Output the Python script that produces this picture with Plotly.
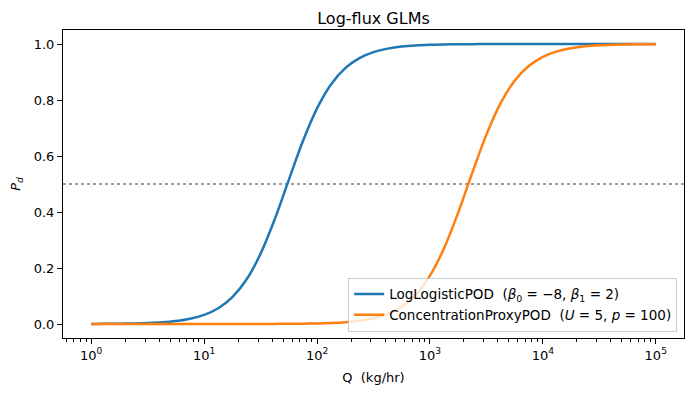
import plotly.graph_objects as go

# log10(Q) grid of the sampled points, Q in kg/hr
log10_q = [0.0, 0.125, 0.25, 0.375, 0.5, 0.625, 0.75, 0.875, 1.0, 1.125, 1.25, 1.375,
           1.5, 1.625, 1.75, 1.875, 2.0, 2.125, 2.25, 2.375, 2.5, 2.625, 2.75, 2.875,
           3.0, 3.125, 3.25, 3.375, 3.5, 3.625, 3.75, 3.875, 4.0, 4.125, 4.25, 4.375,
           4.5, 4.625, 4.75, 4.875, 5.0]

loglogistic_pd = [0.0003, 0.0006, 0.0011, 0.0019, 0.0033, 0.0059, 0.0105, 0.0185, 0.0325,
                  0.0563, 0.0960, 0.1587, 0.2512, 0.3738, 0.5148, 0.6536, 0.7703, 0.8564,
                  0.9139, 0.9497, 0.9711, 0.9835, 0.9907, 0.9947, 0.9970, 0.9983, 0.9991,
                  0.9995, 0.9997, 0.9998, 0.9999, 0.9999, 1.0, 1.0, 1.0, 1.0, 1.0, 1.0,
                  1.0, 1.0, 1.0]

concproxy_pd = [0.0, 0.0, 0.0, 0.0, 0.0, 0.0, 0.0, 0.0, 0.0, 0.0001, 0.0001, 0.0001,
                0.0002, 0.0004, 0.0007, 0.0012, 0.0021, 0.0037, 0.0066, 0.0116, 0.0205,
                0.0358, 0.0619, 0.1051, 0.1728, 0.2709, 0.3979, 0.5402, 0.6763, 0.7879,
                0.8686, 0.9215, 0.9543, 0.9738, 0.9851, 0.9916, 0.9952, 0.9973, 0.9985,
                0.9992, 0.9995]

x_tick_exps = [0, 1, 2, 3, 4, 5]
y_ticks = [0.0, 0.2, 0.4, 0.6, 0.8, 1.0]
threshold = 0.5

q_vals = [10 ** e for e in log10_q]
NB = "\u00a0"
FONT = "DejaVu Sans"
W, H = 685, 388  # page body has an 8px margin

fig = go.Figure()
fig.add_trace(go.Scatter(
    x=q_vals, y=loglogistic_pd, mode="lines", line=dict(color="#1f77b4", width=2.5, shape="spline"),
    name="LogLogisticPOD" + NB + NB + "(<i>β</i><sub>0</sub> = −8, <i>β</i><sub>1</sub> = 2)"))
fig.add_trace(go.Scatter(
    x=q_vals, y=concproxy_pd, mode="lines", line=dict(color="#ff7f0e", width=2.5, shape="spline"),
    name="ConcentrationProxyPOD" + NB + NB + "(<i>U</i> = 5, <i>p</i> = 100)"))

fig.add_shape(type="line", xref="paper", yref="y", x0=0, x1=1, y0=threshold, y1=threshold,
              line=dict(color="#808080", width=1.5, dash="dot"), layer="below")

fig.update_layout(
    width=W, height=H,
    margin=dict(l=55, r=9, t=22, b=58, autoexpand=False),
    paper_bgcolor="white", plot_bgcolor="white",
    font=dict(family=FONT, size=13, color="black"),
    title=dict(text="Log-flux GLMs", x=0.5, xref="paper", y=1 - 10 / H, yref="container",
               xanchor="center", yanchor="middle", font=dict(size=16, family=FONT)),
    showlegend=True,
    legend=dict(x=0.989, y=0.02, xanchor="right", yanchor="bottom",
                bgcolor="rgba(255,255,255,0.8)", bordercolor="#cccccc", borderwidth=1,
                font=dict(size=13.5, family=FONT), tracegroupgap=0),
)

fig.update_xaxes(
    type="log", range=[-0.25, 5.25], automargin=False,
    tickvals=[10 ** e for e in x_tick_exps],
    ticktext=["10<sup>%d</sup>" % e for e in x_tick_exps],
    ticks="outside", ticklen=5, tickwidth=1, tickcolor="black",
    minor=dict(ticks="outside", ticklen=2.5, tickwidth=0.8, tickcolor="black", dtick="D1", showgrid=False),
    showline=True, linecolor="black", linewidth=1, mirror=True, showgrid=False, zeroline=False,
    title=dict(text="Q" + NB + NB + "(kg/hr)", font=dict(size=13, family=FONT), standoff=11),
    tickfont=dict(size=13, family=FONT),
)
fig.update_yaxes(
    range=[-0.05, 1.05], automargin=False, tickvals=y_ticks, ticktext=["%.1f" % v for v in y_ticks],
    ticks="outside", ticklen=5, tickwidth=1, tickcolor="black",
    showline=True, linecolor="black", linewidth=1, mirror=True, showgrid=False, zeroline=False,
    title=dict(text="<i>P</i><sub><i>d</i></sub>", font=dict(size=13, family=FONT), standoff=12),
    tickfont=dict(size=13, family=FONT),
)

fig.write_html("out.html")
